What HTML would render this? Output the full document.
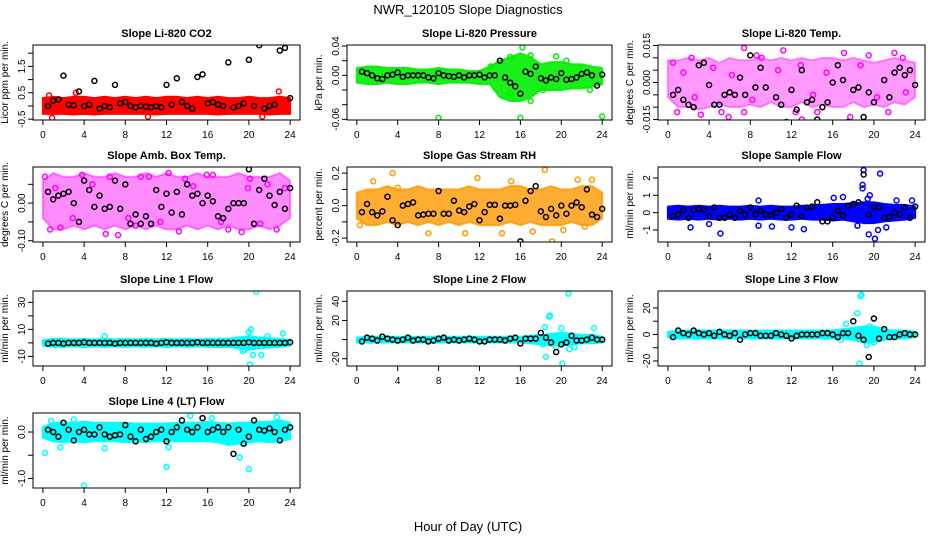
<!DOCTYPE html>
<html><head><meta charset="utf-8"><style>
body{margin:0;background:#fff}
svg{display:block;font-family:"Liberation Sans",sans-serif}
</style></head><body>
<svg id="c" width="936" height="540" viewBox="0 0 936 540">
<text x="468" y="14" text-anchor="middle" font-size="13">NWR_120105  Slope Diagnostics</text>
<text x="468" y="531" text-anchor="middle" font-size="13">Hour of Day (UTC)</text>
</svg>
<script>
const bandHours=[0,1,2,3,4,5,6,7,8,9,10,11,12,13,14,15,16,17,18,19,20,21,22,23,24];
const blackHours=[0.5,1,1.5,2,2.5,3,3.5,4,4.5,5,5.5,6,6.5,7,7.5,8,8.5,9,9.5,10,10.5,11,11.5,12,12.5,13,13.5,14,14.5,15,15.5,16,16.5,17,17.5,18,18.5,19,19.5,20,20.5,21,21.5,22,22.5,23,23.5,24];
const panelTitles=["Slope Li-820 CO2","Slope Li-820 Pressure","Slope Li-820 Temp.","Slope Amb. Box Temp.","Slope Gas Stream RH","Slope Sample Flow","Slope Line 1 Flow","Slope Line 2 Flow","Slope Line 3 Flow","Slope Line 4 (LT) Flow"];
const panelYLabels=["Licor ppm per min.","kPa per min.","degrees C per min.","degrees C per min.","percent per min.","ml/min per min.","ml/min per min.","ml/min per min.","ml/min per min.","ml/min per min."];
const yDomains=[[-0.53,2.31],[-0.0609,0.0414],[-0.0152,0.0152],[-0.1034,0.0961],[-0.224,0.238],[-1.69,2.63],[-17.1,38.4],[-27.6,50.8],[-23.8,32.8],[-1.206,0.41]];
const yTicks=[[-0.5,0,0.5,1,1.5,2],[-0.06,-0.04,-0.02,0,0.02,0.04],[-0.015,-0.01,-0.005,0,0.005,0.01,0.015],[-0.1,-0.05,0,0.05],[-0.2,-0.1,0,0.1,0.2],[-1,0,1,2],[-10,0,10,20,30],[-20,0,20,40],[-20,-10,0,10,20],[-1,-0.5,0]];
const yTickLabels=[["-0.5","","0.5","","1.5",""],["-0.06","","","0.00","","0.04"],["-0.015","","","0.000","","","0.015"],["-0.10","","0.00",""],["-0.2","","0.0","","0.2"],["-1","0","1","2"],["-10","","10","","30"],["-20","","20","40"],["-20","","0","","20"],["-1.0","","0.0"]];
const xTicks=[0,4,8,12,16,20,24];
const colors=["#ff0000","#00ee00","#ff00ff","#ff00ff","#ff9900","#0000ff","#00ffff","#00ffff","#00ffff","#00ffff"];
const bandOpacity=[1,0.9,0.4,0.45,0.8,1,1,1,1,1];
const bandLo0=[-0.3,-0.3,-0.3,-0.32,-0.3,-0.32,-0.3,-0.3,-0.3,-0.3,-0.3,-0.32,-0.3,-0.3,-0.3,-0.3,-0.3,-0.32,-0.3,-0.3,-0.3,-0.3,-0.32,-0.3,-0.3];
const bandHi0=[0.3,0.35,0.3,0.35,0.35,0.3,0.35,0.3,0.35,0.3,0.35,0.3,0.35,0.35,0.3,0.35,0.3,0.35,0.3,0.3,0.35,0.3,0.3,0.35,0.3];
const bandLo1=[-0.01,-0.012,-0.012,-0.01,-0.012,-0.012,-0.01,-0.01,-0.012,-0.01,-0.01,-0.01,-0.012,-0.012,-0.03,-0.035,-0.035,-0.03,-0.02,-0.02,-0.02,-0.018,-0.018,-0.015,-0.012];
const bandHi1=[0.01,0.012,0.012,0.01,0.01,0.01,0.008,0.008,0.01,0.008,0.008,0.006,0.006,0.012,0.02,0.025,0.03,0.025,0.015,0.018,0.018,0.015,0.015,0.012,0.01];
const bandLo2=[-0.006,-0.01,-0.01,-0.011,-0.01,-0.009,-0.01,-0.01,-0.009,-0.01,-0.008,-0.01,-0.01,-0.008,-0.01,-0.009,-0.01,-0.01,-0.008,-0.01,-0.009,-0.01,-0.008,-0.009,-0.006];
const bandHi2=[0.009,0.009,0.01,0.009,0.01,0.008,0.01,0.009,0.009,0.01,0.009,0.01,0.009,0.01,0.009,0.01,0.01,0.009,0.01,0.009,0.008,0.009,0.01,0.009,0.008];
const bandLo3=[-0.04,-0.07,-0.07,-0.06,-0.07,-0.06,-0.07,-0.06,-0.07,-0.06,-0.07,-0.06,-0.07,-0.07,-0.06,-0.07,-0.06,-0.07,-0.06,-0.07,-0.07,-0.06,-0.07,-0.06,-0.04];
const bandHi3=[0.06,0.08,0.07,0.07,0.08,0.07,0.07,0.08,0.07,0.07,0.08,0.07,0.08,0.07,0.07,0.08,0.07,0.07,0.07,0.08,0.07,0.07,0.07,0.08,0.06];
const bandLo4=[-0.08,-0.12,-0.12,-0.1,-0.12,-0.1,-0.12,-0.1,-0.12,-0.1,-0.12,-0.1,-0.12,-0.12,-0.12,-0.1,-0.12,-0.1,-0.12,-0.12,-0.12,-0.1,-0.12,-0.12,-0.08];
const bandHi4=[0.08,0.1,0.1,0.12,0.1,0.1,0.12,0.1,0.1,0.1,0.1,0.12,0.1,0.1,0.1,0.12,0.12,0.1,0.1,0.12,0.1,0.1,0.12,0.12,0.08];
const bandLo5=[-0.35,-0.4,-0.35,-0.4,-0.35,-0.4,-0.35,-0.4,-0.35,-0.4,-0.35,-0.4,-0.4,-0.35,-0.4,-0.4,-0.45,-0.4,-0.5,-0.6,-0.6,-0.5,-0.45,-0.4,-0.3];
const bandHi5=[0.35,0.4,0.35,0.4,0.35,0.4,0.35,0.35,0.4,0.35,0.4,0.35,0.35,0.4,0.4,0.45,0.5,0.5,0.55,0.6,0.6,0.5,0.45,0.45,0.35];
const bandLo6=[-2,-3,-3,-2.5,-3,-2.5,-3,-2.5,-3,-2.5,-3,-2.5,-3,-2.5,-3,-2.5,-3,-3,-3,-4,-5,-4,-3.5,-3,-2];
const bandHi6=[2,3,3,2.5,3,2.5,3,2.5,3,2.5,3,2.5,3,2.5,3,2.5,3,3,3,4,5,4,3.5,3,2];
const bandLo7=[-3,-3,-3,-3,-3,-3,-3,-3,-3,-3,-3,-3,-3,-3,-3,-3,-3,-4,-5,-6,-6,-5,-4,-4,-3];
const bandHi7=[2,3,3,3,3,3,3,3,3,3,3,3,3,3,3,3,3,4,5,6,7,6,5,5,3];
const bandLo8=[-2,-3,-3,-3,-3,-3,-3,-3,-3,-3,-3,-3,-3,-3,-3,-3,-3,-3,-4,-6,-6,-4,-3,-3,-2];
const bandHi8=[2,3,3,3,3,3,3,3,3,3,3,3,3,3,3,3,3,4,5,6,6,4,3,3,2];
const bandLo9=[-0.12,-0.2,-0.22,-0.2,-0.22,-0.2,-0.2,-0.2,-0.22,-0.2,-0.22,-0.2,-0.2,-0.2,-0.2,-0.2,-0.2,-0.22,-0.28,-0.25,-0.22,-0.2,-0.22,-0.2,-0.15];
const bandHi9=[0.1,0.2,0.2,0.2,0.22,0.2,0.2,0.2,0.2,0.18,0.18,0.18,0.18,0.2,0.2,0.2,0.22,0.2,0.18,0.2,0.2,0.22,0.22,0.25,0.2];
const bandsLo=[bandLo0,bandLo1,bandLo2,bandLo3,bandLo4,bandLo5,bandLo6,bandLo7,bandLo8,bandLo9];
const bandsHi=[bandHi0,bandHi1,bandHi2,bandHi3,bandHi4,bandHi5,bandHi6,bandHi7,bandHi8,bandHi9];
const outliers0=[[0.9,-0.45],[3.2,0.5],[22.9,0.55],[0.6,0.4],[21.3,-0.4],[10.2,-0.4]];
const outliers1=[[8,-0.058],[16,-0.058],[24,-0.056],[16.2,0.038],[15,0.025],[19.5,0.026],[17,0.027],[17,-0.035],[15,-0.025],[22.8,-0.02],[20.5,0.02],[13.1,0.012],[18.2,-0.02]];
const outliers2=[[7.4,0.014],[11.2,0.013],[8.6,0.011],[17.1,0.012],[22,0.012],[19.5,0.011],[0.9,-0.012],[3.2,-0.013],[5.9,-0.014],[13.0,-0.015],[17.7,-0.014],[7.4,-0.012],[12.4,-0.012],[0.5,0.008],[2.3,0.01],[21.4,-0.012],[5.2,-0.012],[14.5,-0.012],[9.1,0.01],[22.8,0.01],[1.5,0.004],[2.6,-0.006],[4.4,0.006],[6.2,0.003],[8.2,-0.007],[10.7,0.005],[12.9,0.007],[14.1,-0.005],[15.4,0.004],[18.7,0.007],[20.3,-0.006],[23.1,-0.004]];
const outliers3=[[0.2,0.07],[0.7,-0.07],[1.7,-0.065],[3.8,0.075],[6.5,0.07],[7.3,-0.085],[6.1,-0.082],[9.5,0.07],[12.2,0.08],[13.2,-0.075],[15.9,0.075],[16.5,0.075],[18.0,-0.07],[19.3,-0.077],[20.1,0.065],[21.8,0.05],[22.7,-0.07],[23.5,0.04],[10.3,0.07],[13.8,0.065],[9,-0.06],[1.2,0.04],[2.9,-0.04],[4.8,0.05],[8.3,-0.04],[11.4,-0.05],[14.6,0.045],[17.3,-0.05],[19.9,0.04],[21.1,-0.055]];
const outliers4=[[3.5,0.2],[18.4,0.22],[19.1,-0.22],[0.3,-0.12],[1.6,0.15],[7.0,-0.17],[10.6,-0.17],[11.8,0.17],[15.1,0.15],[17.2,-0.16],[20.2,-0.15],[21.6,0.16],[23,0.16],[14.2,-0.17],[22.3,-0.13],[4,0.11]];
const outliers5=[[19.0,2.45],[20.6,2.25],[18.9,1.6],[18.9,1.4],[19.4,0.8],[19.6,1.0],[19.5,-1.25],[20.1,-1.5],[20.4,-1.0],[5.1,-1.2],[2.2,-0.85],[8.8,-0.75],[10.1,-0.8],[12.0,-0.85],[13.2,-0.95],[4,-0.65],[8.8,0.7],[17.0,0.9],[16.1,0.85],[23.7,0.7],[22.2,0.7],[21.2,-0.85],[18.4,-0.75]];
const outliers6=[[20.7,38],[20.1,-16],[20.2,10],[20.0,8],[19.6,-5],[19.4,-6],[20.4,-9],[21.2,-9],[6,5],[23.3,7],[21.8,5]];
const outliers7=[[20.7,48],[18.9,25],[18.8,24],[18.5,-18],[20.1,-25],[18.4,13],[20.0,12],[19.5,-8],[20.8,-10],[21.3,-8],[23.2,12],[18.2,-5]];
const outliers8=[[18.8,30],[18.7,29],[18.6,-22],[18.4,16],[17.3,8],[19.3,-8],[19.6,6],[20.0,-6],[16.8,-4],[19.2,-5]];
const outliers9=[[4,-1.15],[0.2,-0.45],[12,-0.75],[20,-0.8],[19.1,-0.55],[6,-0.35],[14.3,0.35],[1.7,-0.33],[16.4,0.3],[22.7,0.32],[0.8,0.24],[3.0,0.27],[12.2,-0.33],[19.4,-0.25]];
const outliersAll=[outliers0,outliers1,outliers2,outliers3,outliers4,outliers5,outliers6,outliers7,outliers8,outliers9];
const black0=[0,0.2,0.25,1.15,0.05,0.02,0.55,0.0,0.05,0.95,-0.1,0.0,-0.05,0.8,0.1,0.15,0.0,-0.05,0.0,-0.02,-0.05,0.0,-0.05,0.8,0.05,1.05,0.15,0.0,-0.1,1.1,1.2,0.1,0.15,0.05,0.0,1.65,-0.05,0.0,0.1,1.75,0.0,2.3,-0.1,0.0,0.05,2.1,2.2,0.3];
const black1=[0.005,0.003,0.0,-0.004,-0.005,0.0,0.001,0.004,-0.002,0.0,0.0,0.0,0.0,-0.003,-0.004,0.003,0.0,-0.001,-0.002,0.0,-0.003,0.0,0.0,0.001,-0.003,0.0,0.0,0.02,-0.003,-0.01,-0.015,-0.025,0.005,0.002,0.012,-0.004,-0.007,-0.003,-0.005,0.003,-0.006,-0.005,-0.003,0.002,0.004,0.0,-0.014,0.001];
const black2=[-0.005,-0.003,-0.007,-0.009,-0.01,0.007,0.008,-0.001,-0.009,-0.009,-0.005,-0.004,-0.005,0.002,-0.005,0.011,-0.002,0.006,-0.002,-0.02,-0.006,-0.009,-0.016,-0.003,-0.011,0.005,-0.008,-0.007,-0.015,-0.01,-0.008,0.0,0.007,0.001,-0.016,-0.003,-0.002,-0.014,-0.004,-0.008,-0.017,0.001,-0.006,0.004,0.006,0.003,0.005,-0.001];
const black3=[0.03,0.01,0.02,0.025,0.03,0.0,-0.05,0.06,0.035,-0.01,0.02,-0.015,-0.01,0.06,-0.015,0.05,-0.055,-0.03,-0.055,-0.035,-0.055,0.035,-0.01,0.025,-0.025,0.03,-0.03,0.05,0.02,0.025,0.0,0.02,0.005,-0.035,-0.04,-0.015,0.0,0.0,0.0,0.09,-0.055,0.035,0.065,0.02,-0.005,0.03,-0.015,0.04];
const black4=[-0.04,0.01,-0.04,-0.06,-0.035,0.055,-0.09,-0.12,0.0,0.01,0.02,-0.06,-0.055,-0.05,-0.05,0.09,-0.05,-0.05,0.03,-0.03,-0.04,-0.005,0.01,-0.09,-0.04,0.005,0.005,-0.08,0.0,0.0,0.005,-0.22,0.03,0.09,0.12,-0.035,-0.07,-0.02,-0.06,0.0,-0.05,0.0,0.02,-0.01,0.1,-0.055,-0.07,-0.02];
const black5=[-0.2,-0.1,0.15,-0.3,0.15,0.2,0.15,-0.2,0.3,-0.3,-0.3,-0.1,-0.3,0.1,-0.1,0.3,-0.1,0.1,-0.1,-0.15,0.0,0.2,-0.3,-0.1,0.4,-0.2,0.3,0.35,0.6,-0.5,-0.5,-0.3,0.1,-0.15,0.4,0.5,0.6,2.2,-0.1,0.35,0.3,-0.3,-0.25,0.0,-0.1,0.3,-0.3,0.35];
const black6=[-0.5,0,0,-0.5,0,0,0,0.5,0,0,0,0,0,-0.5,0,0,0,0,0,0,0,-0.5,0,0.5,0,0,0,0,0,0.5,0,0,0,0,0,0,0,0,0,0.5,0,0,0,0,0,0,0,0.5];
const black7=[-2,2,1,-1,3,1,0,-1,0,2,-1,0,0,-2,-1,1,2,-1,0,-1,0,1,0,-2,-2,0,0,0,-1,1,2,-4,1,1,1,7,2,-3,-13,-5,-3,4,-1,-1,0,2,0,0];
const black8=[-2,3,1,0,3,1,0,1,-1,2,0,-1,1,-4,0,1,1,-1,-1,-1,1,0,-1,-3,-1,0,0,0,0,1,1,0,-2,1,1,10,-1,-4,-17,12,-3,4,-2,-2,0,1,0,0];
const black9=[0.05,0.0,-0.1,0.2,0.05,-0.18,0.0,0.05,-0.05,-0.05,0.1,-0.05,-0.1,-0.07,-0.05,0.15,-0.1,-0.2,0.05,-0.15,-0.1,0.0,0.05,-0.2,0.0,0.1,0.25,0.05,0.0,0.1,0.3,0.0,0.05,0.1,0.0,0.1,-0.47,0.05,-0.25,-0.1,0.25,0.05,0.03,0.08,0.0,-0.18,0.05,0.1];
const blacksAll=[black0,black1,black2,black3,black4,black5,black6,black7,black8,black9];

const NS="http://www.w3.org/2000/svg";
const svg=document.getElementById('c');
const colLeft=[33,347,658], colRight=[300,612,925];
const rowTop=[45,167,291,413], boxH=75;
function mk(tag,attrs,parent){const e=document.createElementNS(NS,tag);for(const k in attrs)e.setAttribute(k,attrs[k]);(parent||svg).appendChild(e);return e;}
for(let p=0;p<10;p++){
  const col=p%3,row=Math.floor(p/3);
  const L=colLeft[col],R=colRight[col],T=rowTop[row],B=T+boxH;
  const xs=h=>L+(h+0.96)/25.92*(R-L);
  const [y0,y1]=yDomains[p];
  const ys=v=>B-(v-y0)/(y1-y0)*(B-T);
  const g=mk('g',{});
  
  
  const t=mk('text',{x:(L+R)/2,y:T-8,'text-anchor':'middle','font-size':11,'font-weight':'bold'},g);
  t.textContent=panelTitles[p];
  
  
  const yl=mk('text',{x:0,y:0,'text-anchor':'middle','font-size':10,transform:`translate(${L-25},${(T+B)/2}) rotate(-90)`},g);
  yl.textContent=panelYLabels[p];
  
  
  const clip=mk('clipPath',{id:'cp'+p},g);mk('rect',{x:L,y:T,width:R-L,height:boxH},clip);
  const pg=mk('g',{'clip-path':`url(#cp${p})`},g);
  let pts=[];
  bandHours.forEach((h,i)=>pts.push(xs(h)+','+ys(bandsHi[p][i])));
  for(let i=bandHours.length-1;i>=0;i--)pts.push(xs(bandHours[i])+','+ys(bandsLo[p][i]));
  const band=mk('polygon',{points:pts.join(' '),fill:colors[p],'fill-opacity':bandOpacity[p],stroke:colors[p],'stroke-width':2,'stroke-opacity':bandOpacity[p],'stroke-linejoin':'round'},pg);
  
  
  outliersAll[p].forEach(o=>{
    const c=mk('circle',{cx:xs(o[0]),cy:ys(o[1]),r:2.5,fill:'none',stroke:colors[p],'stroke-width':1.5},pg);
    
    
  });
  blacksAll[p].forEach((v,i)=>{
    const c=mk('circle',{cx:xs(blackHours[i]),cy:ys(v),r:2.5,fill:'none',stroke:'#000','stroke-width':1.5},pg);
    
    
  });
  const box=mk('rect',{x:L,y:T,width:R-L,height:boxH,fill:'none',stroke:'#000','stroke-width':1},g);
  
  
  xTicks.forEach(h=>{
    const x=xs(h);
    mk('line',{x1:x,x2:x,y1:B,y2:B+5,stroke:'#000'},g);
    const tx=mk('text',{x:x,y:B+18,'text-anchor':'middle','font-size':10},g);
    tx.textContent=h;
    
    
  });
  yTicks[p].forEach((v,i)=>{
    const y=ys(v);
    mk('line',{x1:L-5,x2:L,y1:y,y2:y,stroke:'#000'},g);
    if(yTickLabels[p][i]){
      const ty=mk('text',{x:0,y:0,'text-anchor':'middle','font-size':10,transform:`translate(${L-8},${y}) rotate(-90)`},g);
      ty.textContent=yTickLabels[p][i];
      
      
    }
  });
}
</script>
</body></html>
